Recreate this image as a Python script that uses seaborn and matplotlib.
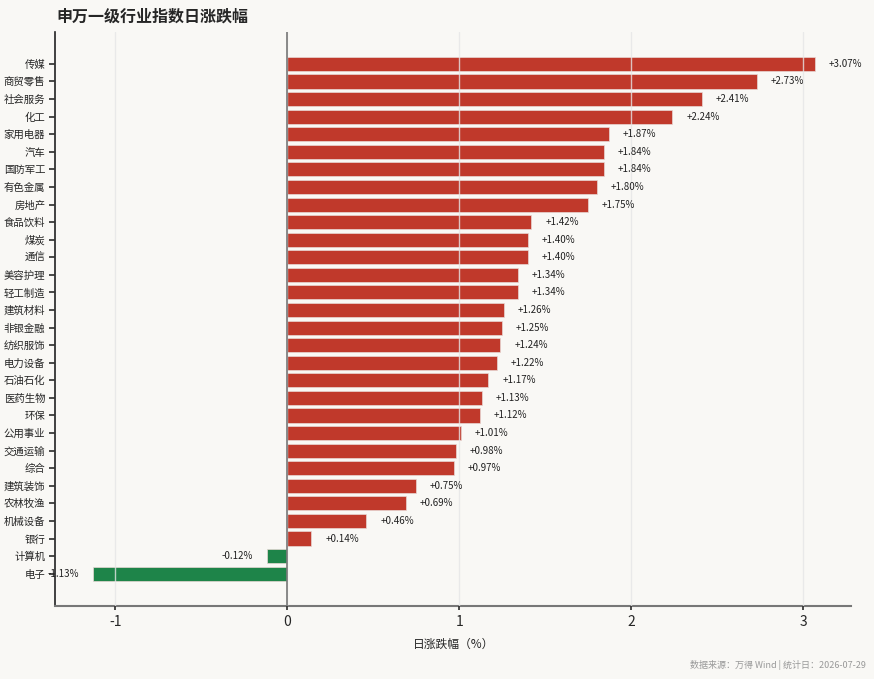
import numpy as np
import pandas as pd
import seaborn as sns
import matplotlib.pyplot as plt

industries = ['传媒', '商贸零售', '社会服务', '化工', '家用电器', '汽车', '国防军工', '有色金属',
              '房地产', '食品饮料', '煤炭', '通信', '美容护理', '轻工制造', '建筑材料', '非银金融',
              '纺织服饰', '电力设备', '石油石化', '医药生物', '环保', '公用事业', '交通运输', '综合',
              '建筑装饰', '农林牧渔', '机械设备', '银行', '计算机', '电子']
changes = [3.07, 2.73, 2.41, 2.24, 1.87, 1.84, 1.84, 1.80, 1.75, 1.42, 1.40, 1.40, 1.34, 1.34,
           1.26, 1.25, 1.24, 1.22, 1.17, 1.13, 1.12, 1.01, 0.98, 0.97, 0.75, 0.69, 0.46, 0.14,
           -0.12, -1.13]
x_ticks = [-1, 0, 1, 2, 3]

UP = '#c0392b'
DOWN = '#1e8449'
BG = '#f9f8f5'

df = pd.DataFrame({'industry': industries, 'change': changes})
df['dir'] = np.where(df['change'] >= 0, 'up', 'down')

sns.set_theme(style='white')
plt.rcParams['font.family'] = ['Noto Sans CJK SC', 'DejaVu Sans']
plt.rcParams['axes.unicode_minus'] = False

fig, ax = plt.subplots(figsize=(8.74, 6.79), dpi=100)
fig.patch.set_facecolor(BG)
ax.set_facecolor(BG)

sns.barplot(data=df, x='change', y='industry', hue='dir', palette={'up': UP, 'down': DOWN},
            orient='h', width=0.8, dodge=False, legend=False, ax=ax,
            edgecolor='#e8d8d4', linewidth=0.5, saturation=1)

# value labels just past the bar ends
for i, v in enumerate(changes):
    ax.annotate(f'{v:+.2f}%', (v, i), xytext=(10 if v >= 0 else -10, 0), textcoords='offset points',
                ha='left' if v >= 0 else 'right', va='center', fontsize=7, color='#222222')

ax.axvline(0, color='#777777', lw=1.2, zorder=3)
ax.set_xticks(x_ticks)
ax.set_xticklabels([str(t) for t in x_ticks], fontsize=10)
ax.grid(axis='x', color='#e6e6e6', lw=1, alpha=0.8, zorder=4)
ax.set_axisbelow(False)
ax.set_xlim(-1.35, 3.28)
ax.set_ylim(len(industries) - 1 + 1.82, -1.82)

ax.tick_params(axis='y', labelsize=7.5, left=True, length=4, color='#333333', pad=3)
ax.tick_params(axis='x', bottom=True, length=3, color='#333333', pad=4)
ax.set_ylabel('')
ax.set_xlabel('日涨跌幅（%）', fontsize=8.5, labelpad=6)

for s in ['top', 'right']:
    ax.spines[s].set_visible(False)
ax.spines['left'].set_color('#222222')
ax.spines['left'].set_linewidth(1.2)
ax.spines['bottom'].set_color('#777777')
ax.spines['bottom'].set_linewidth(1.5)

fig.subplots_adjust(left=0.063, right=0.974, top=0.953, bottom=0.108)
fig.text(0.065, 0.976, '申万一级行业指数日涨跌幅', fontsize=11.5, fontweight='bold', ha='left', va='center')
fig.text(0.991, 0.021, '数据来源：万得 Wind | 统计日：2026-07-29', fontsize=6.5, color='#999999',
         ha='right', va='center')

fig.savefig('out.png', dpi=100, facecolor=BG)
